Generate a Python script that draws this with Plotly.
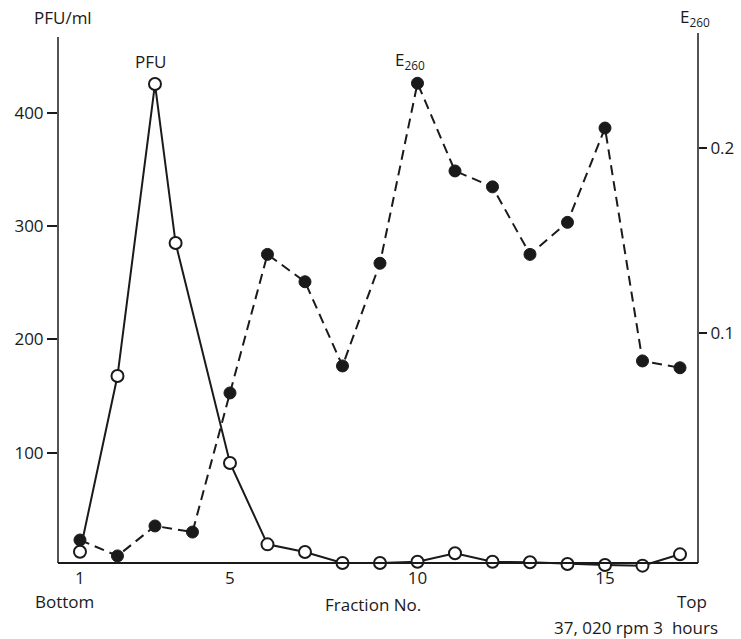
import plotly.graph_objects as go

fractions = list(range(1, 18))
pfu_x = [1, 2, 3, 3.55, 5, 6, 7, 8, 9, 10, 11, 12, 13, 14, 15, 16, 17]
pfu_ml = [12.6, 167.6, 425.3, 285, 90.9, 19.1, 12.4, 2.6, 2.6, 3.8, 11.2, 3.8, 3.3, 1.8, 0.9, 0.3, 10.3]
e260 = [-0.0119, -0.0205, -0.0043, -0.0076, 0.0676, 0.1425, 0.1277, 0.0822, 0.1377,
        0.235, 0.1876, 0.179, 0.1425, 0.1598, 0.2108, 0.0849, 0.0812]

x_ticks = [1, 5, 10, 15]
left_ticks = [100, 200, 300, 400]
right_ticks = [0.1, 0.2]
right_tick_text = ["0.1", "0.2"]

FONT = "Open Sans"
INK = "#1a1a1a"
FS = 17

W, H = 741, 639
L, R, T = 58, 698, 35
AXIS_Y = 563          # pixel row of the drawn bottom axis
PLOT_B = 578          # plot area extends a little below it so low markers stay visible

# pixel mapping: PFU 0 at y=566, 1.1333 px per unit;
# E260 0 at y=518, 1850 px per unit
pfu_range = [(566 - PLOT_B) / 1.1333, (566 - T) / 1.1333]
e_range = [(518 - PLOT_B) / 1850.0, (518 - T) / 1850.0]
axis_pos = (PLOT_B - AXIS_Y) / (PLOT_B - T)

fig = go.Figure()
fig.add_trace(go.Scatter(
    x=fractions, y=e260, yaxis="y2", mode="lines+markers",
    line=dict(color=INK, width=2, dash="10px,6px"),
    marker=dict(symbol="circle", size=12, color=INK, line=dict(color=INK, width=1)),
    cliponaxis=False, showlegend=False))
fig.add_trace(go.Scatter(
    x=pfu_x, y=pfu_ml, yaxis="y", mode="lines+markers",
    line=dict(color=INK, width=2),
    marker=dict(symbol="circle", size=12, color="white", line=dict(color=INK, width=2)),
    cliponaxis=False, showlegend=False))

def px(x):
    return (x - L) / (R - L)

def py(y):
    return (PLOT_B - y) / (PLOT_B - T)

anns = [
    ("PFU/ml", 63, 18, FS),
    ("PFU", 150, 62, FS),
    ("E<sub>260</sub>", 410, 60, FS),
    ("E<sub>260</sub>", 695, 18, FS),
    ("Bottom", 64, 602, FS),
    ("Fraction No.", 373, 604, FS),
    ("Top", 692, 601, FS),
    ("37, 020 rpm 3  hours", 636, 627, FS),
]

shapes = [
    dict(type="line", xref="paper", yref="paper", x0=0, x1=0, y0=axis_pos, y1=py(37),
         line=dict(color=INK, width=1.5)),
    dict(type="line", xref="paper", yref="paper", x0=1, x1=1, y0=axis_pos, y1=py(33),
         line=dict(color=INK, width=1.5)),
]

fig.update_layout(
    width=W, height=H,
    margin=dict(l=L, r=W - R, t=T, b=H - PLOT_B, autoexpand=False),
    paper_bgcolor="white", plot_bgcolor="white",
    font=dict(family=FONT, size=FS, color=INK),
    xaxis=dict(range=[0.414, 17.48], tickvals=x_ticks, ticks="", showgrid=False,
               zeroline=False, showline=True, linecolor=INK, linewidth=1.5,
               anchor="free", position=axis_pos, automargin=False,
               tickfont=dict(family=FONT, size=FS, color=INK)),
    yaxis=dict(range=pfu_range, tickvals=left_ticks, ticks="outside", ticklen=10,
               tickwidth=1.5, tickcolor=INK, showgrid=False, zeroline=False,
               showline=False, automargin=False,
               tickfont=dict(family=FONT, size=FS, color=INK)),
    yaxis2=dict(range=e_range, tickvals=right_ticks, ticktext=right_tick_text,
                overlaying="y", side="right", ticks="outside", ticklen=8,
                tickwidth=1.5, tickcolor=INK, showgrid=False, zeroline=False,
                showline=False, automargin=False,
                tickfont=dict(family=FONT, size=FS, color=INK)),
    shapes=shapes,
    annotations=[dict(text=t, x=px(xx), y=py(yy), xref="paper", yref="paper",
                      showarrow=False, xanchor="center", yanchor="middle",
                      font=dict(family=FONT, size=s, color=INK))
                 for t, xx, yy, s in anns],
)

fig.write_html("out.html", config={"displayModeBar": False},
               post_script="document.body.style.margin='0';document.body.style.overflow='hidden';")
